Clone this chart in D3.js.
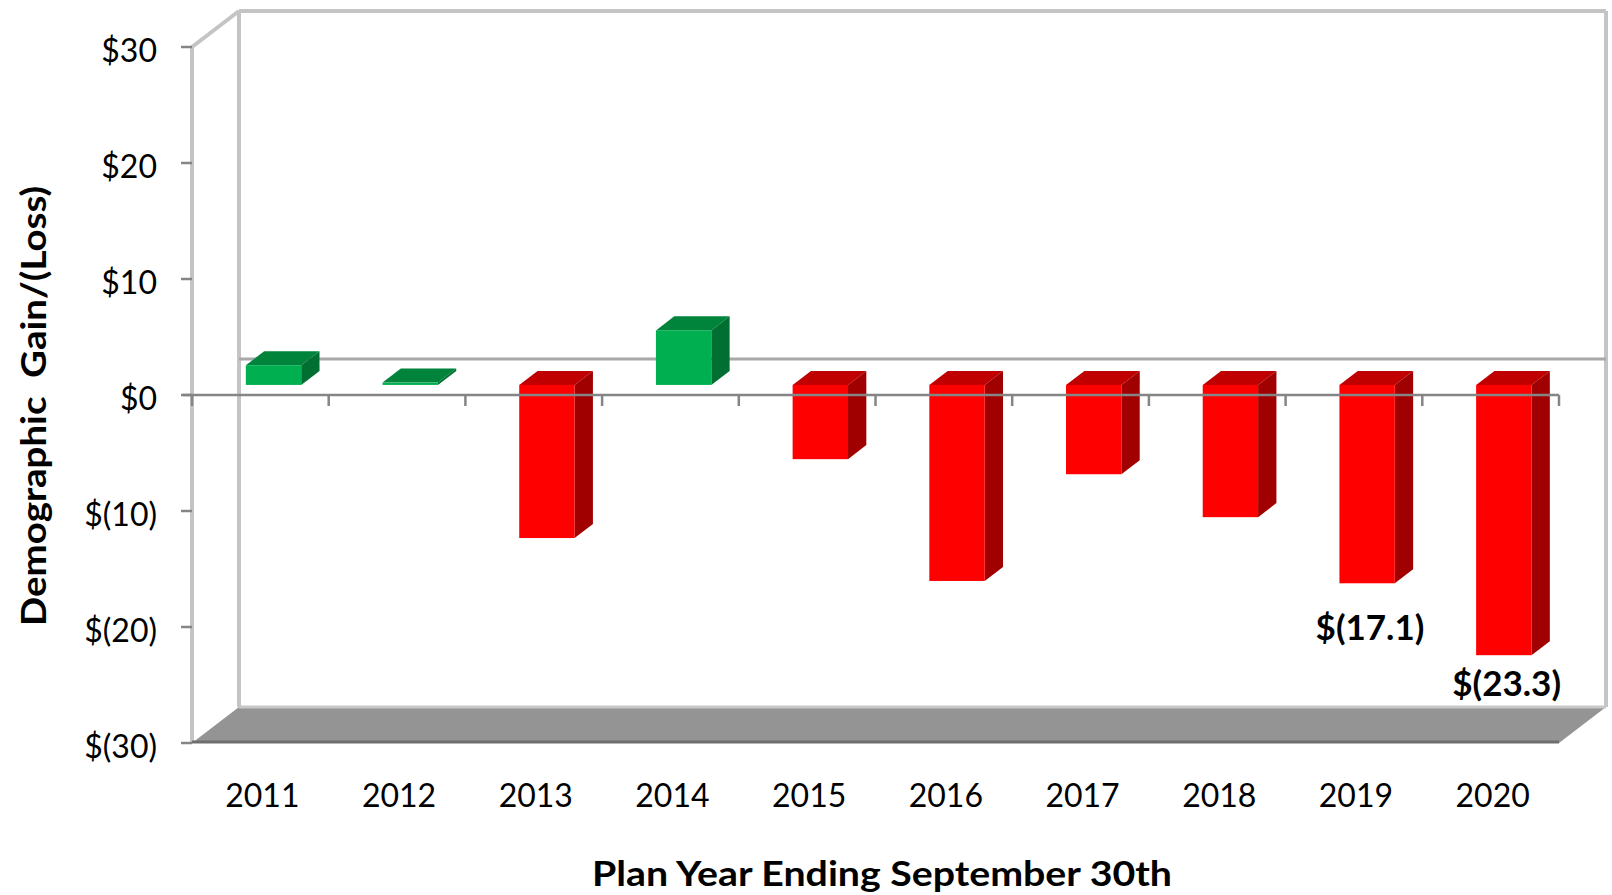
<!DOCTYPE html>
<html>
<head>
<meta charset="utf-8">
<script src="https://cdn.jsdelivr.net/npm/d3@7"></script>
<style>
  body { margin: 0; background: #fff; }
  text { font-family: Lato, "Open Sans", sans-serif; }
</style>
</head>
<body>
<script>
// chart values
const years = ['2011', '2012', '2013', '2014', '2015', '2016', '2017', '2018', '2019', '2020'];
const gains = [1.7, 0.2, -13.2, 4.7, -6.4, -16.9, -7.7, -11.4, -17.1, -23.3];
const yTicks = [30, 20, 10, 0, -10, -20, -30];
const labelled = ['2019', '2020'];

const W = 1612, H = 895;
// depth of the 3d box (back wall offset)
const depthX = 47, depthY = 36;
const f0 = 0.28, f1 = 0.67;   // bar front / back in depth fraction

const svg = d3.select('body').append('svg')
    .attr('width', W)
    .attr('height', H);

const x = d3.scaleBand()
    .domain(years)
    .range([192, 1559])
    .padding(0);

const y = d3.scaleLinear()
    .domain([-30, 30])
    .range([743, 47]);

const fmt = v => v < 0 ? `$(${Math.abs(v)})` : `$${v}`;
const fmt1 = v => v < 0 ? `$(${Math.abs(v).toFixed(1)})` : `$${v.toFixed(1)}`;

const x0 = x.range()[0], x1 = x.range()[1];
const yTop = y(30), yBot = y(-30);

// left side wall
const wall = svg.append('g').attr('fill', 'none').attr('stroke', '#c4c4c4').attr('stroke-width', 4);
wall.append('line').attr('x1', x0).attr('y1', yTop).attr('x2', x0).attr('y2', yBot);
wall.append('line').attr('x1', x0 + depthX).attr('y1', yTop - depthY).attr('x2', x0 + depthX).attr('y2', yBot - depthY);
wall.append('line').attr('x1', x0).attr('y1', yTop).attr('x2', x0 + depthX).attr('y2', yTop - depthY);
// back wall
wall.append('line').attr('x1', x0 + depthX).attr('y1', yTop - depthY).attr('x2', x1 + depthX).attr('y2', yTop - depthY);
wall.append('line').attr('x1', x1 + depthX).attr('y1', yTop - depthY).attr('x2', x1 + depthX).attr('y2', yBot - depthY);

// floor
svg.append('polygon')
    .attr('points', [[x0, yBot], [x0 + depthX, yBot - depthY], [x1 + depthX, yBot - depthY], [x1, yBot]].join(' '))
    .attr('fill', '#949494');
svg.append('line')
    .attr('x1', x0 + depthX).attr('y1', yBot - depthY).attr('x2', x1 + depthX).attr('y2', yBot - depthY)
    .attr('stroke', '#c8c8c8').attr('stroke-width', 3);
svg.append('line')
    .attr('x1', x0).attr('y1', yBot - 1).attr('x2', x1).attr('y2', yBot - 1)
    .attr('stroke', '#6e6e6e').attr('stroke-width', 3);

// zero line on back wall
svg.append('line')
    .attr('x1', x0 + depthX).attr('x2', x1 + depthX)
    .attr('y1', y(0) - depthY).attr('y2', y(0) - depthY)
    .attr('stroke', '#a8a8a8').attr('stroke-width', 3);

// bars
const bw = x.bandwidth() * 0.405;
const ddx = (f1 - f0) * depthX, ddy = (f1 - f0) * depthY;
const colors = {
    pos: { face: '#00b050', top: '#00843c', side: '#006f31' },
    neg: { face: '#ff0000', top: '#c00000', side: '#a00000' }
};

svg.append('g').selectAll('g')
    .data(years.map((d, i) => ({ year: d, value: gains[i] })))
    .join('g')
    .each(function (d) {
        const g = d3.select(this);
        const c = d.value >= 0 ? colors.pos : colors.neg;
        const left = x(d.year) + x.bandwidth() / 2 - bw / 2 + f0 * depthX;
        const right = left + bw;
        const top = y(Math.max(d.value, 0)) - f0 * depthY;
        const bot = y(Math.min(d.value, 0)) - f0 * depthY;
        g.append('polygon')
            .attr('points', [[left, top], [right, top], [right + ddx, top - ddy], [left + ddx, top - ddy]].join(' '))
            .attr('fill', c.top);
        g.append('polygon')
            .attr('points', [[right, top], [right + ddx, top - ddy], [right + ddx, bot - ddy], [right, bot]].join(' '))
            .attr('fill', c.side);
        g.append('rect')
            .attr('x', left).attr('y', top)
            .attr('width', bw).attr('height', Math.max(bot - top, 0.5))
            .attr('fill', c.face);
    });

// front zero axis with ticks
const xAxis = svg.append('g').attr('stroke', '#858585').attr('stroke-width', 2.5);
xAxis.append('line').attr('x1', x0 - 9).attr('x2', x1).attr('y1', y(0)).attr('y2', y(0));
xAxis.selectAll('.tick')
    .data(years.map(d => x(d)).concat([x1]))
    .join('line')
    .attr('x1', d => d).attr('x2', d => d)
    .attr('y1', y(0)).attr('y2', y(0) + 11);

// y axis ticks + labels
svg.append('g').selectAll('line')
    .data(yTicks)
    .join('line')
    .attr('x1', x0 - 11).attr('x2', x0)
    .attr('y1', d => y(d)).attr('y2', d => y(d))
    .attr('stroke', '#858585').attr('stroke-width', 2.5);

svg.append('g').selectAll('text')
    .data(yTicks)
    .join('text')
    .attr('x', 157)
    .attr('y', d => y(d) + 15)
    .attr('text-anchor', 'end')
    .attr('font-size', 32)
    .attr('fill', '#000')
    .text(fmt);

// year labels
svg.append('g').selectAll('text')
    .data(years)
    .join('text')
    .attr('x', d => x(d) + x.bandwidth() / 2 + 2)
    .attr('y', 807)
    .attr('text-anchor', 'middle')
    .attr('font-size', 32)
    .attr('fill', '#000')
    .text(d => d);

// data labels for the last two bars
svg.append('g').selectAll('text')
    .data(years.map((d, i) => ({ year: d, value: gains[i] })).filter(d => labelled.includes(d.year)))
    .join('text')
    .attr('x', d => x(d.year) + x.bandwidth() / 2 + 16)
    .attr('y', d => Math.min(y(d.value) + 47, yBot - depthY - 11))
    .attr('text-anchor', 'middle')
    .attr('font-size', 35)
    .attr('font-weight', 'bold')
    .attr('fill', '#000')
    .text(d => fmt1(d.value));

// axis titles
svg.append('text')
    .attr('transform', 'translate(46, 406) rotate(-90)')
    .attr('text-anchor', 'middle')
    .attr('font-size', 34)
    .attr('font-weight', 'bold')
    .attr('textLength', 440)
    .attr('lengthAdjust', 'spacingAndGlyphs')
    .style('white-space', 'pre')
    .attr('fill', '#000')
    .text('Demographic  Gain/(Loss)');

svg.append('text')
    .attr('x', 882)
    .attr('y', 886)
    .attr('text-anchor', 'middle')
    .attr('font-size', 34)
    .attr('font-weight', 'bold')
    .attr('textLength', 580)
    .attr('lengthAdjust', 'spacingAndGlyphs')
    .attr('fill', '#000')
    .text('Plan Year Ending September 30th');
</script>
</body>
</html>
